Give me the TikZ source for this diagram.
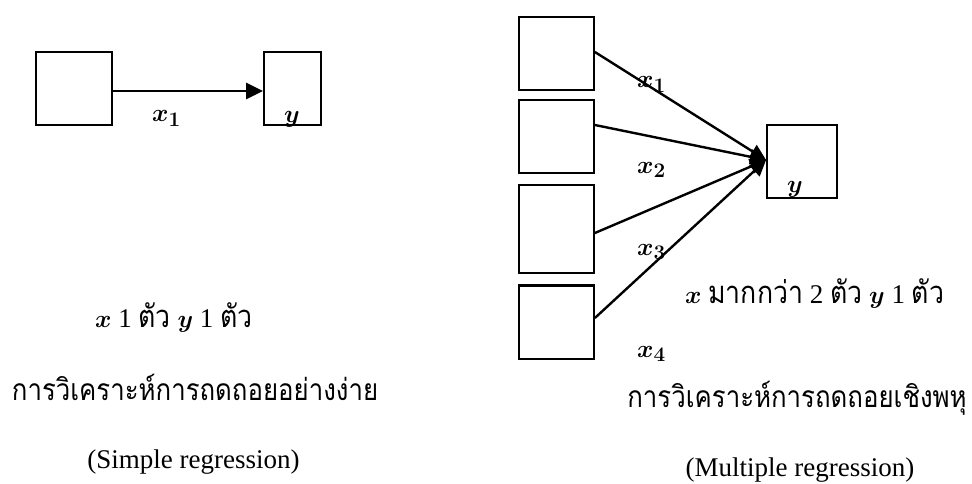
\documentclass[tikz,border=0pt]{standalone}
\usepackage{fontspec}
\setmainfont{Liberation Serif}
\newfontfamily\thaifont[Script=Thai, FakeStretch=0.86]{Loma}
\usetikzlibrary{arrows.meta}
\newcommand\myvx{{\boldmath$x$}}
\newcommand\myvy{{\boldmath$y$}}
\newcommand\myth[1]{{\fontsize{31}{32}\selectfont\thaifont #1}}
\begin{document}
\begin{tikzpicture}[x=1pt,y=-1pt,
  box/.style={draw=black, line width=1.8pt, inner sep=0pt, fill=white},
  conn/.style={draw=black, line width=2.4pt},
  tip/.style={-{Triangle[length=16pt,width=15pt]}},
  bigtip/.style={-{Triangle[length=17pt,width=16pt]}},
  lbl/.style={anchor=base west, inner sep=0pt, font=\fontsize{29}{32}\selectfont\boldmath},
  txt/.style={inner sep=0pt, font=\fontsize{27}{32}\selectfont},
  thtxt/.style={inner sep=0pt, font=\fontsize{30}{32}\selectfont\thaifont}]
\useasboundingbox[fill=white] (0,0) rectangle (972,484);
% simple regression
\node[box, minimum width=76pt, minimum height=73pt] (s1) at (74,88.5) {};
\node[box, minimum width=57pt, minimum height=73pt] (sy) at (292.5,88.5) {};
\draw[conn, bigtip] ([yshift=-2.5pt]s1.east) -- ([yshift=-2.5pt]sy.west);
\node[lbl] (sx1) at (152,122) {$x_1$};
\node[lbl] (syl) at (284,123) {$y$};
\node[txt, anchor=base west] (st1) at (95,327) {\myvx{} 1 \myth{ตัว} \myvy{} 1 \myth{ตัว}};
\node[thtxt, anchor=base] (st2) at (195,400) {การวิเคราะห์การถดถอยอย่างง่าย};
\node[txt, anchor=base] (st3) at (193.5,468) {(Simple regression)};
% multiple regression
\node[box, minimum width=75pt, minimum height=73pt] (m1) at (556.5,53.5) {};
\node[box, minimum width=75pt, minimum height=73pt] (m2) at (556.5,136.5) {};
\node[box, minimum width=75pt, minimum height=88pt] (m3) at (556.5,229) {};
\node[box, minimum width=75pt, minimum height=74pt] (m4) at (556.5,322) {};
\draw[line width=1.2pt] ([yshift=-2.5pt]m4.north west) -- ([yshift=-2.5pt]m4.north east);
\node[box, minimum width=70pt, minimum height=73pt] (my) at (802,161.5) {};
\draw[conn, tip] ([yshift=1.5pt]m1.east) -- ([yshift=1.5pt]my.west);
\draw[conn, tip] ([yshift=11.5pt]m2.east) -- ([yshift=1.5pt]my.west);
\draw[conn, tip] ([yshift=-4pt]m3.east) -- ([yshift=1.5pt]my.west);
\draw[conn, tip] ([yshift=4pt]m4.east) -- ([yshift=1.5pt]my.west);
\node[lbl] (mx1) at (637,88) {$x_1$};
\node[lbl] (mx2) at (637,173) {$x_2$};
\node[lbl] (mx3) at (637,255) {$x_3$};
\node[lbl] (mx4) at (637,357) {$x_4$};
\node[lbl] (myl) at (787,193) {$y$};
\node[txt, anchor=base west] (mt1) at (685,303) {\myvx{} \myth{มากกว่า} 2 \myth{ตัว} \myvy{} 1 \myth{ตัว}};
\node[thtxt, anchor=base] (mt2) at (797,407) {การวิเคราะห์การถดถอยเชิงพหุ};
\node[txt, anchor=base] (mt3) at (800,476) {(Multiple regression)};
\end{tikzpicture}
\end{document}
